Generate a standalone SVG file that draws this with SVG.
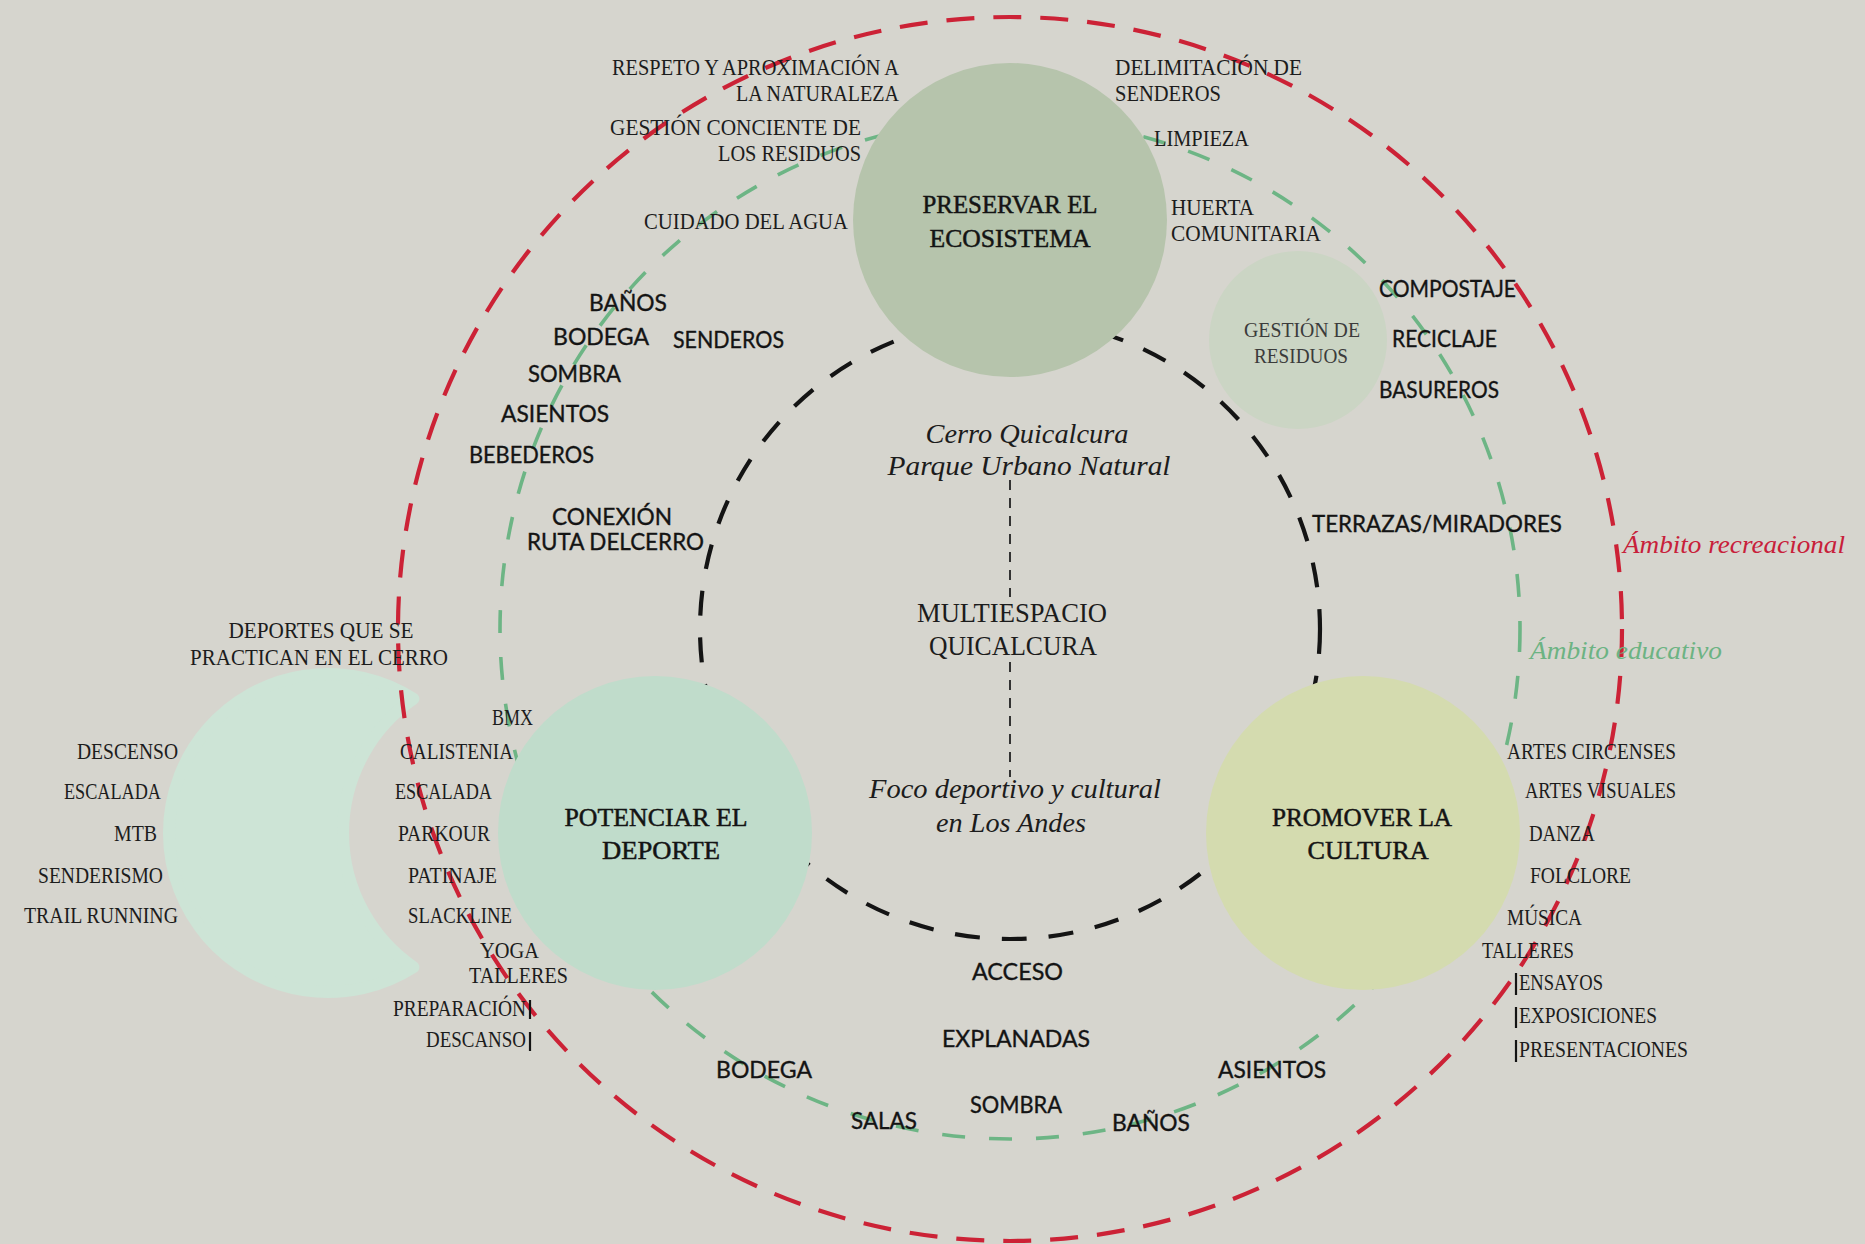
<svg xmlns="http://www.w3.org/2000/svg" width="1865" height="1244" viewBox="0 0 1865 1244">
<style>
.s{font-family:"Liberation Serif",serif;font-size:22.5px;fill:#1c1c1c}
.t{font-family:"Liberation Serif",serif;font-size:26px;fill:#141414;stroke:#141414;stroke-width:0.5;text-anchor:middle}
.c{font-family:"Liberation Serif",serif;font-size:26.5px;fill:#1c1c1c;text-anchor:middle}
.i{font-family:"Liberation Serif",serif;font-style:italic;font-size:27px;fill:#1c1c1c;text-anchor:middle}
.g{font-family:Lato,"Open Sans",sans-serif;font-size:22.5px;fill:#141414;stroke:#141414;stroke-width:0.35}
.e{text-anchor:end}
.m{text-anchor:middle}
.ring{fill:none}
.bar{stroke:#141414;stroke-width:2.2}
</style>
<rect width="1865" height="1244" fill="#d6d5ce"/>

<g id="node-deportes-cerro">
<path d="M413.4 698.9 A159 159 0 1 0 413.4 967.1 A163 163 0 0 1 413.4 698.9 Z" fill="#cde4d6" stroke="#cde4d6" stroke-width="12" stroke-linejoin="round"/>
</g>

<g id="connectors">
<circle class="ring" cx="1010" cy="629" r="612" stroke="#cc2236" stroke-width="4.2" stroke-dasharray="28 19"/>
<circle class="ring" cx="1010" cy="629" r="510" stroke="#6db585" stroke-width="3.6" stroke-dasharray="23 24"/>
<circle class="ring" cx="1010" cy="629" r="310" stroke="#141414" stroke-width="4.2" stroke-dasharray="25 22"/>
<line x1="1010" y1="480" x2="1010" y2="597" stroke="#222" stroke-width="1.8" stroke-dasharray="10 8"/>
<line x1="1010" y1="662" x2="1010" y2="777" stroke="#222" stroke-width="1.8" stroke-dasharray="10 8"/>
</g>

<g id="node-preservar">
<circle cx="1010" cy="220" r="157" fill="#b6c4ac"/>
<text class="t" x="1010" y="213" textLength="175" lengthAdjust="spacingAndGlyphs">PRESERVAR EL</text>
<text class="t" x="1010" y="247" textLength="161" lengthAdjust="spacingAndGlyphs">ECOSISTEMA</text>
</g>

<g id="node-gestion">
<circle cx="1298" cy="340" r="89" fill="#cbd5c4"/>
<text class="s m" x="1302" y="337" textLength="116" lengthAdjust="spacingAndGlyphs" style="fill:#3b3b3b;font-size:21px">GESTIÓN DE</text>
<text class="s m" x="1301" y="363" textLength="94" lengthAdjust="spacingAndGlyphs" style="fill:#3b3b3b;font-size:21px">RESIDUOS</text>
</g>

<g id="node-potenciar">
<circle cx="655" cy="833" r="157" fill="#c0dccb"/>
<text class="t" x="656" y="826" textLength="183" lengthAdjust="spacingAndGlyphs">POTENCIAR EL</text>
<text class="t" x="661" y="859" textLength="118" lengthAdjust="spacingAndGlyphs">DEPORTE</text>
</g>

<g id="node-promover">
<circle cx="1363" cy="833" r="157" fill="#d4dbaf"/>
<text class="t" x="1362" y="826" textLength="180" lengthAdjust="spacingAndGlyphs">PROMOVER LA</text>
<text class="t" x="1368" y="859" textLength="121" lengthAdjust="spacingAndGlyphs">CULTURA</text>
</g>

<g id="node-centro">
<text class="i" x="1027" y="443" textLength="203" lengthAdjust="spacingAndGlyphs">Cerro Quicalcura</text>
<text class="i" x="1029" y="475" textLength="283" lengthAdjust="spacingAndGlyphs">Parque Urbano Natural</text>
<text class="c" x="1012" y="622" textLength="190" lengthAdjust="spacingAndGlyphs">MULTIESPACIO</text>
<text class="c" x="1013" y="655" textLength="168" lengthAdjust="spacingAndGlyphs">QUICALCURA</text>
<text class="i" x="1015" y="798" textLength="292" lengthAdjust="spacingAndGlyphs">Foco deportivo y cultural</text>
<text class="i" x="1011" y="832" textLength="150" lengthAdjust="spacingAndGlyphs">en Los Andes</text>
</g>

<g id="labels-ecosistema">
<text class="s e" x="899" y="75" textLength="287" lengthAdjust="spacingAndGlyphs">RESPETO Y APROXIMACIÓN A</text>
<text class="s e" x="899" y="101" textLength="163" lengthAdjust="spacingAndGlyphs">LA NATURALEZA</text>
<text class="s e" x="861" y="135" textLength="251" lengthAdjust="spacingAndGlyphs">GESTIÓN CONCIENTE DE</text>
<text class="s e" x="861" y="161" textLength="143" lengthAdjust="spacingAndGlyphs">LOS RESIDUOS</text>
<text class="s e" x="848" y="229" textLength="204" lengthAdjust="spacingAndGlyphs">CUIDADO DEL AGUA</text>
<text class="s" x="1115" y="75" textLength="187" lengthAdjust="spacingAndGlyphs">DELIMITACIÓN DE</text>
<text class="s" x="1115" y="101" textLength="106" lengthAdjust="spacingAndGlyphs">SENDEROS</text>
<text class="s" x="1154" y="146" textLength="95" lengthAdjust="spacingAndGlyphs">LIMPIEZA</text>
<text class="s" x="1171" y="215" textLength="83" lengthAdjust="spacingAndGlyphs">HUERTA</text>
<text class="s" x="1171" y="241" textLength="150" lengthAdjust="spacingAndGlyphs">COMUNITARIA</text>
</g>

<g id="labels-recreacion-norte">
<text class="g" x="589" y="311" textLength="78" lengthAdjust="spacingAndGlyphs">BAÑOS</text>
<text class="g" x="553" y="345" textLength="96" lengthAdjust="spacingAndGlyphs">BODEGA</text>
<text class="g" x="673" y="348" textLength="111" lengthAdjust="spacingAndGlyphs">SENDEROS</text>
<text class="g" x="528" y="382" textLength="93" lengthAdjust="spacingAndGlyphs">SOMBRA</text>
<text class="g" x="501" y="422" textLength="108" lengthAdjust="spacingAndGlyphs">ASIENTOS</text>
<text class="g" x="469" y="463" textLength="125" lengthAdjust="spacingAndGlyphs">BEBEDEROS</text>
<text class="g" x="552" y="525" textLength="120" lengthAdjust="spacingAndGlyphs">CONEXIÓN</text>
<text class="g" x="527" y="550" textLength="177" lengthAdjust="spacingAndGlyphs">RUTA DELCERRO</text>
<text class="g" x="1379" y="297" textLength="137" lengthAdjust="spacingAndGlyphs">COMPOSTAJE</text>
<text class="g" x="1392" y="347" textLength="105" lengthAdjust="spacingAndGlyphs">RECICLAJE</text>
<text class="g" x="1379" y="398" textLength="120" lengthAdjust="spacingAndGlyphs">BASUREROS</text>
<text class="g" x="1312" y="532" textLength="250" lengthAdjust="spacingAndGlyphs">TERRAZAS/MIRADORES</text>
</g>

<g id="labels-recreacion-sur">
<text class="g" x="972" y="980" textLength="91" lengthAdjust="spacingAndGlyphs">ACCESO</text>
<text class="g" x="942" y="1047" textLength="148" lengthAdjust="spacingAndGlyphs">EXPLANADAS</text>
<text class="g" x="716" y="1078" textLength="96" lengthAdjust="spacingAndGlyphs">BODEGA</text>
<text class="g" x="970" y="1113" textLength="92" lengthAdjust="spacingAndGlyphs">SOMBRA</text>
<text class="g" x="851" y="1129" textLength="66" lengthAdjust="spacingAndGlyphs">SALAS</text>
<text class="g" x="1112" y="1131" textLength="78" lengthAdjust="spacingAndGlyphs">BAÑOS</text>
<text class="g" x="1218" y="1078" textLength="108" lengthAdjust="spacingAndGlyphs">ASIENTOS</text>
</g>

<g id="labels-deporte">
<text class="s m" x="321" y="638" textLength="185" lengthAdjust="spacingAndGlyphs">DEPORTES QUE SE</text>
<text class="s m" x="319" y="665" textLength="258" lengthAdjust="spacingAndGlyphs">PRACTICAN EN EL CERRO</text>
<text class="s e" x="178" y="759" textLength="101" lengthAdjust="spacingAndGlyphs">DESCENSO</text>
<text class="s e" x="161" y="799" textLength="97" lengthAdjust="spacingAndGlyphs">ESCALADA</text>
<text class="s e" x="157" y="841" textLength="43" lengthAdjust="spacingAndGlyphs">MTB</text>
<text class="s e" x="163" y="883" textLength="125" lengthAdjust="spacingAndGlyphs">SENDERISMO</text>
<text class="s e" x="178" y="923" textLength="154" lengthAdjust="spacingAndGlyphs">TRAIL RUNNING</text>
<text class="s" x="492" y="725" textLength="41" lengthAdjust="spacingAndGlyphs">BMX</text>
<text class="s" x="400" y="759" textLength="113" lengthAdjust="spacingAndGlyphs">CALISTENIA</text>
<text class="s" x="395" y="799" textLength="97" lengthAdjust="spacingAndGlyphs">ESCALADA</text>
<text class="s" x="398" y="841" textLength="92" lengthAdjust="spacingAndGlyphs">PARKOUR</text>
<text class="s" x="408" y="883" textLength="89" lengthAdjust="spacingAndGlyphs">PATINAJE</text>
<text class="s" x="408" y="923" textLength="104" lengthAdjust="spacingAndGlyphs">SLACKLINE</text>
<text class="s" x="480" y="958" textLength="59" lengthAdjust="spacingAndGlyphs">YOGA</text>
<text class="s" x="469" y="983" textLength="99" lengthAdjust="spacingAndGlyphs">TALLERES</text>
<text class="s" x="393" y="1016" textLength="133" lengthAdjust="spacingAndGlyphs">PREPARACIÓN</text>
<text class="s" x="426" y="1047" textLength="100" lengthAdjust="spacingAndGlyphs">DESCANSO</text>
<line class="bar" x1="530" y1="1000" x2="530" y2="1019"/>
<line class="bar" x1="530" y1="1032" x2="530" y2="1051"/>
</g>

<g id="labels-cultura">
<text class="s" x="1507" y="759" textLength="169" lengthAdjust="spacingAndGlyphs">ARTES CIRCENSES</text>
<text class="s" x="1525" y="798" textLength="151" lengthAdjust="spacingAndGlyphs">ARTES VISUALES</text>
<text class="s" x="1529" y="841" textLength="66" lengthAdjust="spacingAndGlyphs">DANZA</text>
<text class="s" x="1530" y="883" textLength="101" lengthAdjust="spacingAndGlyphs">FOLCLORE</text>
<text class="s" x="1507" y="925" textLength="75" lengthAdjust="spacingAndGlyphs">MÚSICA</text>
<text class="s" x="1482" y="958" textLength="92" lengthAdjust="spacingAndGlyphs">TALLERES</text>
<text class="s" x="1519" y="990" textLength="84" lengthAdjust="spacingAndGlyphs">ENSAYOS</text>
<text class="s" x="1519" y="1023" textLength="138" lengthAdjust="spacingAndGlyphs">EXPOSICIONES</text>
<text class="s" x="1519" y="1057" textLength="169" lengthAdjust="spacingAndGlyphs">PRESENTACIONES</text>
<line class="bar" x1="1516" y1="973" x2="1516" y2="995"/>
<line class="bar" x1="1516" y1="1007" x2="1516" y2="1028"/>
<line class="bar" x1="1516" y1="1040" x2="1516" y2="1062"/>
</g>

<g id="legend">
<text class="i" x="1623" y="553" textLength="222" lengthAdjust="spacingAndGlyphs" style="fill:#c8203a;text-anchor:start;font-size:26px">Ámbito recreacional</text>
<text class="i" x="1530" y="659" textLength="192" lengthAdjust="spacingAndGlyphs" style="fill:#6cb383;text-anchor:start;font-size:26px">Ámbito educativo</text>
</g>
</svg>
